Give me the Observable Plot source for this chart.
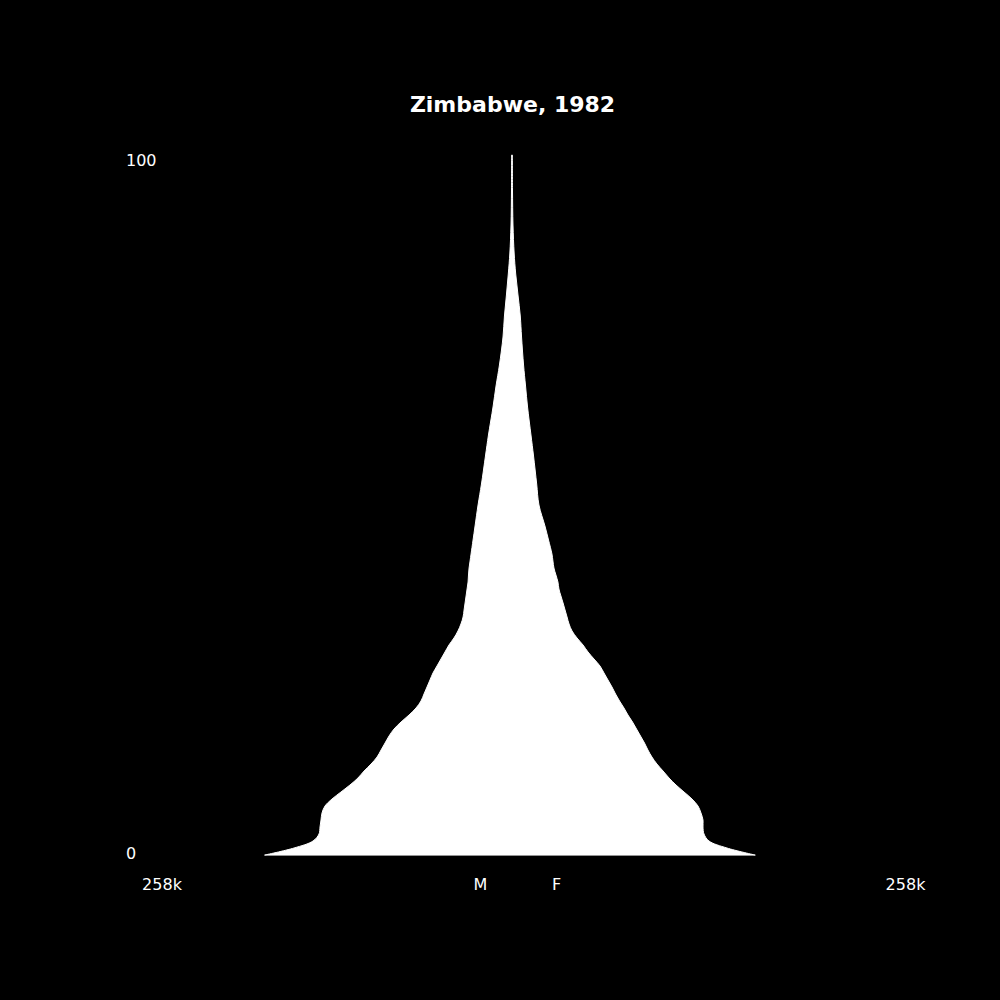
<!DOCTYPE html>
<html>
<head>
<meta charset="utf-8">
<script src="https://cdn.jsdelivr.net/npm/d3@7"></script>
<script src="https://cdn.jsdelivr.net/npm/@observablehq/plot@0.6"></script>
<style>
  html, body { margin: 0; padding: 0; background: #000; }
  #chart svg { display: block; }
</style>
</head>
<body>
<div id="chart"></div>
<script>
// Zimbabwe, 1982 — population by single age (thousands)
const title = "Zimbabwe, 1982";
const ages = [0,1,2,3,4,5,6,7,8,9,10,11,12,13,14,15,16,17,18,19,20,21,22,23,24,25,26,27,28,29,30,31,32,33,34,35,36,37,38,39,40,41,42,43,45,47,50,53,57,60,64,67,70,74,77,80,83,86,90,95,100];
const male = [173.2,152.8,139.5,135.3,134.6,133.9,133.2,131.1,126.2,119.9,113.6,108.0,103.7,98.8,94.6,91.8,89.0,86.2,82.7,77.8,72.2,67.3,63.8,61.7,59.6,57.5,55.4,52.6,49.8,47.0,44.2,40.7,37.9,35.8,34.3,33.6,32.9,32.2,31.5,30.8,30.5,30.1,29.4,28.7,27.3,25.9,23.8,21.4,18.6,16.5,13.3,11.2,8.8,6.3,5.3,3.9,2.6,1.5,0.7,0.35,0.25];
const female = [170.3,150.7,138.1,134.6,133.9,133.9,132.5,130.4,126.2,120.6,115.0,110.1,105.9,101.6,98.1,95.3,92.9,90.1,87.3,84.5,81.3,78.5,75.4,72.6,70.1,67.3,64.5,61.7,57.5,53.3,49.8,45.6,42.1,40.0,38.6,37.2,35.8,34.3,32.9,32.2,30.8,29.4,28.7,28.0,25.6,23.1,18.9,17.3,15.1,13.3,10.9,9.5,8.1,6.7,5.8,4.2,2.6,1.5,0.7,0.35,0.25];
const axisMax = 258;           // thousands
const axisMaxLabel = "258k";
const yTicks = [0, 100];
const sexLabels = ["M", "F"];

const rows = ages.map((a, i) => ({age: a, m: -male[i], f: female[i]}));

const font = "DejaVu Sans, sans-serif";

const chart = Plot.plot({
  width: 1000,
  height: 1000,
  marginLeft: 144,
  marginRight: 120,
  marginTop: 155,
  marginBottom: 145,
  style: {background: "#000", color: "#fff", fontFamily: font, fontSize: "16px", overflow: "visible"},
  x: {domain: [-axisMax, axisMax], axis: null},
  y: {domain: [0, 100], axis: null},
  marks: [
    Plot.areaX(rows, {y: "age", x1: "m", x2: "f", curve: "catmull-rom", fill: "#fff", stroke: "#fff", strokeWidth: 1}),
    // y tick labels
    Plot.text([yTicks[1]], {y: d => d, text: d => String(d), frameAnchor: "left", dx: -18.5, dy: 5, textAnchor: "start", fill: "#fff", fontSize: 16}),
    Plot.text([yTicks[0]], {y: d => d, text: d => String(d), frameAnchor: "left", dx: -18.5, dy: -2, textAnchor: "start", fill: "#fff", fontSize: 16}),
    // x labels
    Plot.text([axisMaxLabel], {text: d => d, frameAnchor: "bottom-left", dx: 17.5, dy: 34, textAnchor: "middle", fill: "#fff", fontSize: 16}),
    Plot.text([axisMaxLabel], {text: d => d, frameAnchor: "bottom-right", dx: 25, dy: 34, textAnchor: "middle", fill: "#fff", fontSize: 16}),
    Plot.text([sexLabels[0]], {text: d => d, frameAnchor: "bottom", dx: -32, dy: 34, textAnchor: "middle", fill: "#fff", fontSize: 16}),
    Plot.text([sexLabels[1]], {text: d => d, frameAnchor: "bottom", dx: 44, dy: 34, textAnchor: "middle", fill: "#fff", fontSize: 16}),
    // title
    Plot.text([title], {text: d => d, frameAnchor: "top", dy: -59, textAnchor: "middle", fill: "#fff", fontSize: 22, fontWeight: "bold"})
  ]
});
document.getElementById("chart").append(chart);
</script>
</body>
</html>
